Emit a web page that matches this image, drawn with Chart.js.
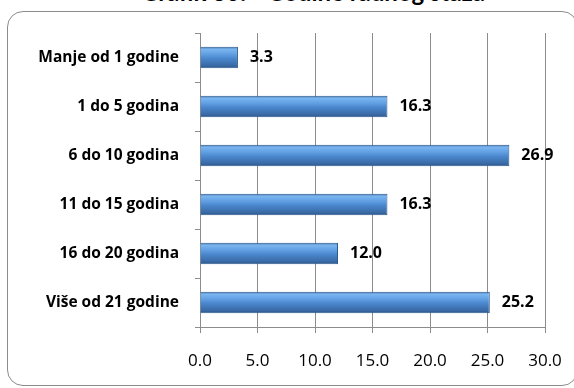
<!DOCTYPE html>
<html>
<head>
<meta charset="utf-8">
<script src="https://cdn.jsdelivr.net/npm/chart.js@4.4.1/dist/chart.umd.min.js"></script>
<style>
  body { margin: 0; background: #fff; }
  #wrap { position: relative; width: 574px; height: 388px; overflow: hidden; background: #fff; }
  #frame { position: absolute; left: 7px; top: 11px; width: 569px; height: 373px;
           border: 1.5px solid #8c8c8c; border-radius: 16px; }
  #title { position: absolute; left: 0; width: 626px; top: -23px; text-align: center;
           font: bold 24px Lato, sans-serif; color: #000; white-space: nowrap; }
  canvas { position: absolute; left: 0; top: 0; }
</style>
</head>
<body>
<div id="wrap">
  <div id="frame"></div>
  <div id="title">Grafik 30: - Godine radnog staža</div>
  <canvas id="chart" width="574" height="388"></canvas>
</div>
<script>
var categories = ['Manje od 1 godine', '1 do 5 godina', '6 do 10 godina', '11 do 15 godina', '16 do 20 godina', 'Više od 21 godine'];
var values = [3.3, 16.3, 26.9, 16.3, 12.0, 25.2];
var xTicks = [0, 5, 10, 15, 20, 25, 30];

var axisGray = '#8c8c8c';
var fontFamily = '"Open Sans", sans-serif';

// vertical gradient for each bar, to get the bevelled look
function barFill(c) {
  var chart = c.chart;
  var y = chart.scales.y;
  if (c.type !== 'data' || !y) return '#4a7ebb';
  var mid = y.getPixelForValue(c.dataIndex);
  if (!isFinite(mid)) return '#4a7ebb';
  var g = chart.ctx.createLinearGradient(0, mid - 10.5, 0, mid + 10.5);
  g.addColorStop(0, '#3c70ae');
  g.addColorStop(0.1, '#7cb6f0');
  g.addColorStop(0.3, '#65a3e6');
  g.addColorStop(0.55, '#4a86cc');
  g.addColorStop(0.88, '#3a6aa6');
  g.addColorStop(1, '#2b5587');
  return g;
}

var valueLabels = {
  id: 'valueLabels',
  afterDatasetsDraw: function(chart) {
    var ctx = chart.ctx;
    var meta = chart.getDatasetMeta(0);
    ctx.save();
    ctx.font = 'bold 16px ' + fontFamily;
    ctx.fillStyle = '#000';
    ctx.textBaseline = 'middle';
    ctx.textAlign = 'left';
    meta.data.forEach(function(bar, i) {
      ctx.fillText(values[i].toFixed(1), bar.x + 12, bar.y);
    });
    ctx.restore();
  }
};

new Chart(document.getElementById('chart'), {
  type: 'bar',
  data: {
    labels: categories,
    datasets: [{
      data: values,
      backgroundColor: barFill,
      borderColor: '#2d5a8e',
      borderWidth: 1,
      barPercentage: 0.44,
      categoryPercentage: 1
    }]
  },
  options: {
    indexAxis: 'y',
    responsive: false,
    animation: false,
    layout: { padding: { top: 33, right: 29, left: 0, bottom: 0 } },
    plugins: {
      legend: { display: false },
      tooltip: { enabled: false }
    },
    scales: {
      x: {
        min: 0,
        max: 30,
        afterBuildTicks: function(scale) {
          scale.ticks = xTicks.map(function(v) { return { value: v }; });
        },
        afterFit: function(scale) {
          scale.height = 61;
          scale.paddingRight = 0;
          scale.paddingLeft = 0;
        },
        grid: { color: axisGray, lineWidth: 1, tickLength: 6 },
        border: { color: axisGray, width: 1 },
        ticks: {
          color: '#000',
          padding: 18,
          font: { family: fontFamily, size: 17 },
          callback: function(v) { return Number(v).toFixed(1); }
        }
      },
      y: {
        afterFit: function(scale) { scale.width = 200; },
        grid: { offset: true, drawOnChartArea: false, color: axisGray, tickLength: 5 },
        border: { color: axisGray, width: 1 },
        ticks: {
          color: '#000',
          padding: 16,
          font: { family: fontFamily, size: 15.5, weight: 'bold' }
        }
      }
    }
  },
  plugins: [valueLabels]
});
</script>
</body>
</html>
